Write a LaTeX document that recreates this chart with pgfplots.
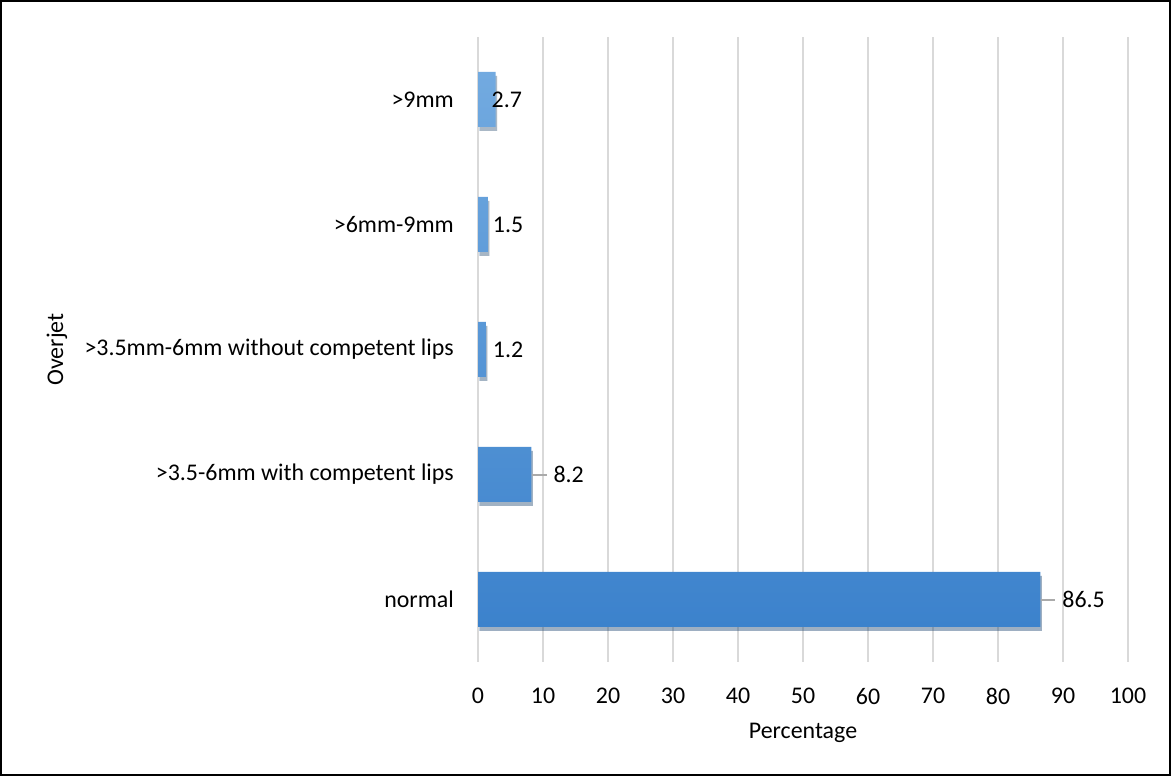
\documentclass[border=0pt]{standalone}
\usepackage{fontspec}
\setmainfont{Carlito}
\usepackage{pgfplots}
\pgfplotsset{compat=1.18}
\usepackage{pgfplotstable}
\usetikzlibrary{shadows}

\definecolor{bartop}{RGB}{114,170,224}
\definecolor{barbot}{RGB}{60,130,204}
\definecolor{gridc}{RGB}{217,217,217}
\definecolor{leadc}{RGB}{170,170,170}

% pos value leader-length label-shift
\pgfplotstableread{
pos value lead dx
0 86.5 14 1
1 8.2 15 0
2 1.2 0 7
3 1.5 0 5
4 2.7 0 -4
}\overjet

\begin{document}
\begin{tikzpicture}
\useasboundingbox (0,0) rectangle (1171bp,776bp);
\draw[line width=2bp] (1bp,1bp) rectangle (1170bp,775bp);
\begin{axis}[
    at={(478bp,114bp)}, anchor=south west,
    scale only axis, width=650bp, height=625bp,
    xbar, bar width=55bp,
    xmin=0, xmax=100, ymin=-0.5, ymax=4.5,
    xtick={0,10,...,100},
    ytick={0,1,2,3,4},
    yticklabels={normal, {>3.5-6mm with competent lips\ }, {>3.5mm-6mm without competent lips}, {>6mm-9mm}, {>9mm}},
    axis line style={draw=none},
    major tick length=0pt,
    xmajorgrids,
    grid style={gridc, line width=2bp},
    font=\fontsize{24}{28}\selectfont,
    /pgf/number format/assume math mode=true,
    xticklabel style={inner sep=0pt, anchor=north, yshift=-26bp},
    yticklabel style={inner sep=0pt, anchor=east, xshift=-24bp},
    xlabel={Percentage},
    ylabel={Overjet},
    xlabel style={at={(axis description cs:0.5,0)}, anchor=center, yshift=-71bp},
    ylabel style={at={(axis description cs:-0.6477,0.5)}, anchor=center},
    point meta=x,
    visualization depends on={\thisrow{lead} \as \lead},
    visualization depends on={\thisrow{dx} \as \dx},
    nodes near coords={\ifdim\lead pt>0pt \textcolor{leadc}{\rule[0.28em]{\lead bp}{2bp}}\hspace{7bp}\fi\pgfmathprintnumber{\pgfplotspointmeta}},
    nodes near coords align={horizontal},
    every node near coord/.append style={anchor=west, inner sep=0pt, xshift=\dx bp, text=black},
]
\addplot[draw=none, top color=bartop, bottom color=barbot,
    drop shadow={shadow xshift=1.5bp, shadow yshift=-4bp, opacity=0.25, fill=black}]
    table[x=value, y=pos] {\overjet};
\end{axis}
\end{tikzpicture}
\end{document}
